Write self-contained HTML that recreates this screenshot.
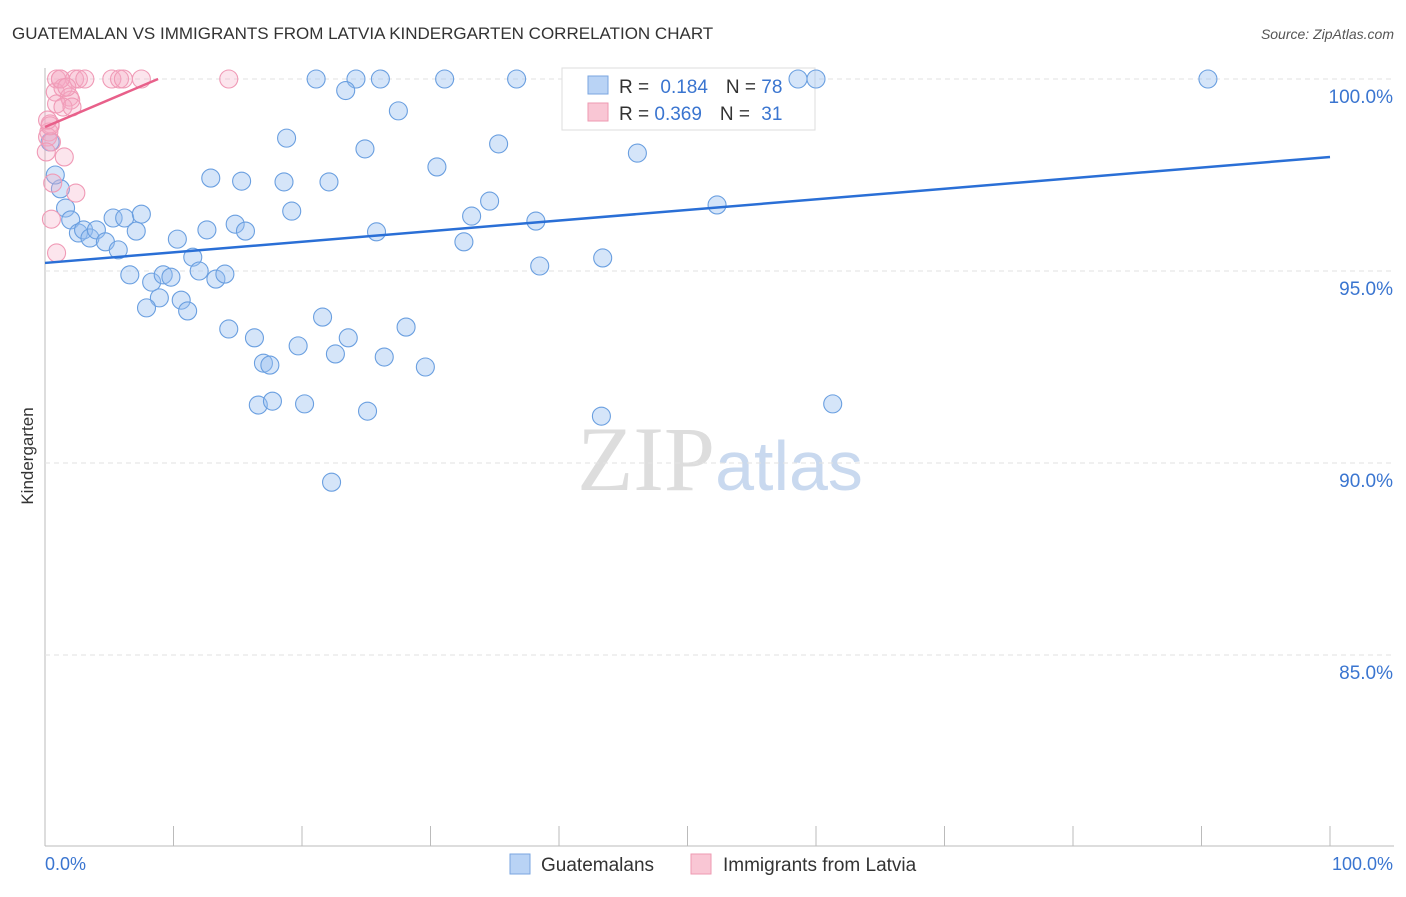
<!DOCTYPE html>
<html><head><meta charset="utf-8"><style>
body{margin:0;background:#fff;font-family:"Liberation Sans",sans-serif}
</style></head><body>
<svg id="c" width="1406" height="892" xmlns="http://www.w3.org/2000/svg" font-family="Liberation Sans, sans-serif">
<text x="12" y="39" font-size="17" fill="#333">GUATEMALAN VS IMMIGRANTS FROM LATVIA KINDERGARTEN CORRELATION CHART</text>
<text x="1394" y="39" font-size="14" fill="#555" text-anchor="end" font-style="italic">Source: ZipAtlas.com</text>
<text x="720" y="490" font-size="92" fill="#ddd" text-anchor="middle" font-family="Liberation Serif, serif">ZIP<tspan fill="#c9d9ef" font-family="Liberation Sans, sans-serif" font-size="70">atlas</tspan></text>
<text transform="translate(33,456) rotate(-90)" font-size="17" fill="#333" text-anchor="middle">Kindergarten</text>
<g id="grid"></g>
<g>
<rect x="562" y="68" width="253" height="62" fill="#fff" stroke="#ddd"/>
<rect x="588" y="76" width="20" height="18" fill="#b9d3f5" stroke="#7aa6e0"/>
<rect x="588" y="103" width="20" height="18" fill="#f9c6d4" stroke="#ee9ab2"/>
<text x="619" y="93" font-size="19" fill="#333">R = <tspan fill="#3a75d0" dx="6">0.184</tspan><tspan dx="18">N = </tspan><tspan fill="#3a75d0">78</tspan></text>
<text x="619" y="120" font-size="19" fill="#333">R = <tspan fill="#3a75d0">0.369</tspan><tspan dx="18">N = </tspan><tspan fill="#3a75d0" dx="6">31</tspan></text>
</g>
<g id="pts"></g><g id="lines"></g>
<g>
<rect x="510" y="854" width="20" height="20" fill="#b9d3f5" stroke="#7aa6e0"/>
<text x="541" y="871" font-size="19" fill="#333">Guatemalans</text>
<rect x="691" y="854" width="20" height="20" fill="#f9c6d4" stroke="#ee9ab2"/>
<text x="723" y="871" font-size="19" fill="#333">Immigrants from Latvia</text>
</g>
<text x="45" y="870" font-size="18" fill="#3a75d0">0.0%</text>
<text x="1393" y="870" font-size="18" fill="#3a75d0" text-anchor="end">100.0%</text>
</svg>
<script>
const yTicks=[100,95,90,85];
const yTickLabels=["100.0%","95.0%","90.0%","85.0%"];
const blueX=[21.1,24.2,26.1,31.1,36.7,58.6,60.0,90.5,23.4,27.5,18.8,24.9,35.3,46.1,30.5,12.9,15.3,18.6,22.1,34.6,52.3,19.2,33.2,38.2,1.6,1.2,0.8,0.4,2.0,2.6,3.0,3.5,4.0,4.7,5.3,6.2,7.5,7.1,5.7,10.3,12.6,14.8,15.6,25.8,32.6,6.6,8.3,9.2,9.8,11.5,12.0,13.3,14.0,38.5,43.4,8.9,7.9,10.6,11.1,14.3,16.3,19.7,21.6,23.6,22.6,26.4,28.1,17.0,17.5,29.6,16.6,17.7,20.2,25.1,43.3,61.3,22.3];
const blueY=[100,100,100,100,100,100,100,100,99.7,99.17,98.46,98.18,98.31,98.07,97.71,97.42,97.34,97.32,97.32,96.82,96.72,96.56,96.43,96.3,96.64,97.14,97.5,98.36,96.33,95.99,96.07,95.86,96.07,95.76,96.38,96.38,96.48,96.04,95.55,95.83,96.07,96.22,96.04,96.02,95.76,94.9,94.71,94.9,94.84,95.36,95.0,94.79,94.92,95.13,95.34,94.3,94.04,94.24,93.96,93.49,93.26,93.05,93.8,93.26,92.84,92.76,93.54,92.6,92.55,92.5,91.51,91.61,91.54,91.35,91.22,91.54,89.5];
const pinkX=[0.9,1.2,2.3,2.6,3.1,5.2,5.8,6.1,7.5,14.3,0.8,1.4,1.9,2.0,0.9,1.4,0.4,0.3,0.2,0.5,1.5,2.4,0.6,0.5,0.9,0.1,0.4,1.2,1.7,2.1,0.2];
const pinkY=[100,100,100,100,100,100,100,100,100,100,99.66,99.77,99.53,99.45,99.35,99.27,98.83,98.62,98.49,98.36,97.97,97.03,97.29,96.35,95.47,98.1,98.78,100,99.79,99.27,98.93];
const blueTrend=[[0,95.21],[100,97.97]];
const pinkTrend=[[0,98.75],[8.8,100]];
const X=v=>45+v*12.85, Y=v=>79+(100-v)*38.4;
const NS="http://www.w3.org/2000/svg";
function mk(t,a,p){const e=document.createElementNS(NS,t);for(const k in a)e.setAttribute(k,a[k]);p.appendChild(e);return e;}
const g=document.getElementById('grid');
mk('line',{x1:45,y1:68,x2:45,y2:846,stroke:'#bbb'},g);
mk('line',{x1:45,y1:846,x2:1394,y2:846,stroke:'#bbb'},g);
for(let i=0;i<=10;i++){const l=mk('line',{x1:X(i*10),x2:X(i*10),y1:826,y2:846,stroke:'#bbb'},g);

}
yTicks.forEach((t,i)=>{const l=mk('line',{x1:45,x2:1394,y1:Y(t),y2:Y(t),stroke:'#e2e2e2','stroke-dasharray':'5,4'},g);


const tx=mk('text',{x:1393,y:Y(t)+24,'font-size':19,fill:'#3a75d0','text-anchor':'end'},g);tx.textContent=yTickLabels[i];

});
const p=document.getElementById('pts');
blueX.forEach((x,i)=>{const c=mk('circle',{cx:X(x),cy:Y(blueY[i]),r:9,fill:'rgba(150,190,240,0.4)',stroke:'#6a9fe0','stroke-width':1.1},p);

});
pinkX.forEach((x,i)=>{const c=mk('circle',{cx:X(x),cy:Y(pinkY[i]),r:9,fill:'rgba(245,170,195,0.3)',stroke:'#f09ab6','stroke-width':1.1},p);

});
const L=document.getElementById('lines');
const b=mk('line',{x1:X(blueTrend[0][0]),y1:Y(blueTrend[0][1]),x2:X(blueTrend[1][0]),y2:Y(blueTrend[1][1]),stroke:'#2a6fd6','stroke-width':2.5},L);


const pk=mk('line',{x1:X(pinkTrend[0][0]),y1:Y(pinkTrend[0][1]),x2:X(pinkTrend[1][0]),y2:Y(pinkTrend[1][1]),stroke:'#e8608a','stroke-width':2.5},L);


</script>
</body></html>
